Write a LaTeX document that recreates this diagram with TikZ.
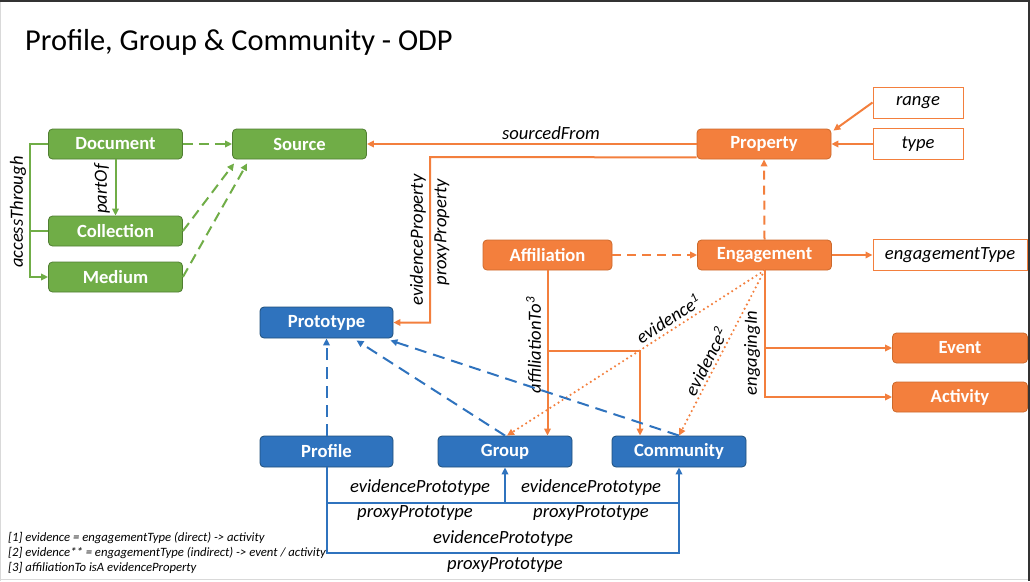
\documentclass[tikz,border=0pt]{standalone}
\usepackage{fontspec}
\setmainfont{Carlito}
\usetikzlibrary{arrows.meta,calc}
\definecolor{gfill}{HTML}{70AD47}
\definecolor{gdraw}{HTML}{507E32}
\definecolor{ofill}{HTML}{F37F3D}
\definecolor{odraw}{HTML}{CC6A2C}
\definecolor{bfill}{HTML}{2F73BE}
\definecolor{bdraw}{HTML}{1F4E79}
\tikzset{
  box/.style={rounded corners=4pt, minimum height=30pt, minimum width=134pt, inner sep=0pt,
    text=white, font=\fontsize{18.6}{20}\selectfont\bfseries, line width=0.8pt},
  gbox/.style={box, fill=gfill, draw=gdraw},
  obox/.style={box, fill=ofill, draw=odraw},
  bbox/.style={box, fill=bfill, draw=bdraw, minimum height=31pt},
  wbox/.style={draw=ofill, line width=1pt, fill=white, minimum height=31pt, inner sep=0pt,
    font=\fontsize{18.6}{20}\selectfont\itshape},
  lbl/.style={font=\fontsize{18.6}{20}\selectfont\itshape, inner sep=0pt},
  foot/.style={font=\fontsize{12.7}{14}\selectfont\itshape, anchor=base west, inner sep=0pt},
  arr/.style={-{Triangle[length=7pt,width=6.5pt]}},
  gline/.style={draw=gfill, line width=2pt},
  oline/.style={draw=ofill, line width=2pt},
  bline/.style={draw=bfill, line width=2pt},
  gdash/.style={gline, dash pattern=on 10pt off 6pt},
  odash/.style={oline, dash pattern=on 9pt off 6pt},
  bdash/.style={bline, dash pattern=on 12pt off 7pt},
  odot/.style={draw=ofill, line width=2.4pt, line cap=round, dash pattern=on 0pt off 4.8pt},
}
\begin{document}
\begin{tikzpicture}[x=1pt,y=-1pt]
\path[use as bounding box] (0,0) rectangle (1030,581);
% frame of the screenshot
\draw[black!15, line width=1pt] (0.5,0) -- (0.5,581);
\draw[black!15, line width=1pt] (0,579.5) -- (1030,579.5);
\draw[black!80, line width=1.5pt] (0,0.75) -- (1030,0.75);
\draw[black!80, line width=2pt] (1029,0) -- (1029,581);

% title
\node[anchor=base west, inner sep=0pt, font=\fontsize{30.4}{34}\selectfont] (title) at (25,50) {Profile, Group \& Community - ODP};

% green nodes
\node[gbox] (doc) at (115.5,144) {Document};
\node[gbox] (src) at (299.5,144) {Source};
\node[gbox] (coll) at (115.5,231) {Collection};
\node[gbox] (med) at (115.5,277) {Medium};

% orange nodes
\node[obox] (prop) at (764,144) {Property};
\node[wbox, minimum width=90pt] (range) at (918,102.5) {range};
\node[wbox, minimum width=90pt] (type) at (918,144) {type};
\node[obox, minimum width=129pt] (aff) at (547.5,255) {Affiliation};
\node[obox] (eng) at (764.5,255) {Engagement};
\node[wbox, minimum width=154pt] (etype) at (950,255) {engagementType};
\node[obox, minimum width=135pt] (event) at (960,348) {Event};
\node[obox, minimum width=135pt] (act) at (960,397) {Activity};

% blue nodes
\node[bbox, minimum width=133pt] (proto) at (326.5,322.5) {Prototype};
\node[bbox, minimum width=133pt] (profile) at (326.5,451.5) {Profile};
\node[bbox] (group) at (505,451.5) {Group};
\node[bbox] (comm) at (679,451.5) {Community};

% green connectors
\draw[gdash, arr] (doc.east) -- (src.west);
\draw[gdash, arr] (coll.east) -- ([xshift=2pt,yshift=-4pt]src.south west);
\draw[gdash, arr] (med.east) -- ([xshift=15pt,yshift=-4pt]src.south west);
\draw[gline, arr] (doc.south) -- (coll.north);
\node[lbl, rotate=90] (lpartof) at (102,189) {partOf};
\coordinate (acc) at (30,144);
\draw[gline, arr] (doc.west) -- (acc) |- (med.west);
\draw[gline] (acc |- coll.west) -- (coll.west);
\node[lbl, rotate=90] (lacc) at (18,212) {accessThrough};

% orange connectors
\draw[oline, arr] (prop.west) -- (src.east);
\node[lbl] (lsrc) at (551,133) {sourcedFrom};
\coordinate (pp) at (430,157);
\draw[oline, arr] ([yshift=2pt]prop.south west) -- (pp) |- (proto.east);
\node[lbl, rotate=90] (levp) at (418,240) {evidenceProperty};
\node[lbl, rotate=90] (lprp) at (442,232) {proxyProperty};
\draw[oline, arr] (range.west) -- ([xshift=2pt,yshift=-2pt]prop.north east);
\draw[oline, arr] (type.west) -- (prop.east);
\draw[odash, arr] (eng.north) -- (prop.south);
\draw[odash, arr] (aff.east) -- (eng.west);
\draw[oline, arr] (eng.east) -- (etype.west);
\draw[oline, arr] (eng.south) |- (act.west);
\draw[oline, arr] (eng.south |- event.west) -- (event.west);
\node[lbl, rotate=90] (leng) at (752,353) {engagingIn};
\draw[oline, arr] (aff.south) -- (aff.south |- group.north);
\coordinate (ab) at (547.5,351);
\coordinate (cb) at (640,351);
\draw[oline, arr] (ab) -- (cb) -- (cb |- comm.north);
\node[lbl, rotate=90] (laff) at (533.5,345) {affiliationTo\textsuperscript{3}};
\draw[odot, arr] (eng.south) -- node[lbl, pos=0.35, sloped, above=3pt] (lev1) {evidence\textsuperscript{1}} ([xshift=2pt]group.north);
\draw[odot, arr] (eng.south) -- node[lbl, pos=0.58, sloped, above=2pt] (lev2) {evidence\textsuperscript{2}} (comm.north);

% blue connectors
\draw[bdash, arr] (profile.north) -- (proto.south);
\draw[bdash, arr] (group.north) -- ([xshift=30pt,yshift=-2pt]proto.south);
\draw[bdash, arr] (comm.north) -- ([xshift=-3pt,yshift=-2pt]proto.south east);
\draw[bline, arr] (profile.south) -- ++(0,36) -| (group.south);
\draw[bline, arr] (profile.south) -- ++(0,86) -| (comm.south);
\draw[bline] ($(group.south)+(0,36)$) -- ($(comm.south)+(0,36)$);
\node[lbl] (lep1) at (420,488) {evidencePrototype};
\node[lbl] (lep2) at (591,488) {evidencePrototype};
\node[lbl] (lpp1) at (415,513) {proxyPrototype};
\node[lbl] (lpp2) at (591,513) {proxyPrototype};
\node[lbl] (lep3) at (503,539) {evidencePrototype};
\node[lbl] (lpp3) at (505,565) {proxyPrototype};

% footnotes
\node[foot] (f1) at (8,541) {[1] evidence = engagementType (direct) -> activity};
\node[foot] (f2) at (8,556) {[2] evidence** = engagementType (indirect) -> event / activity};
\node[foot] (f3) at (8,571) {[3] affiliationTo isA evidenceProperty};
\end{tikzpicture}
\end{document}
